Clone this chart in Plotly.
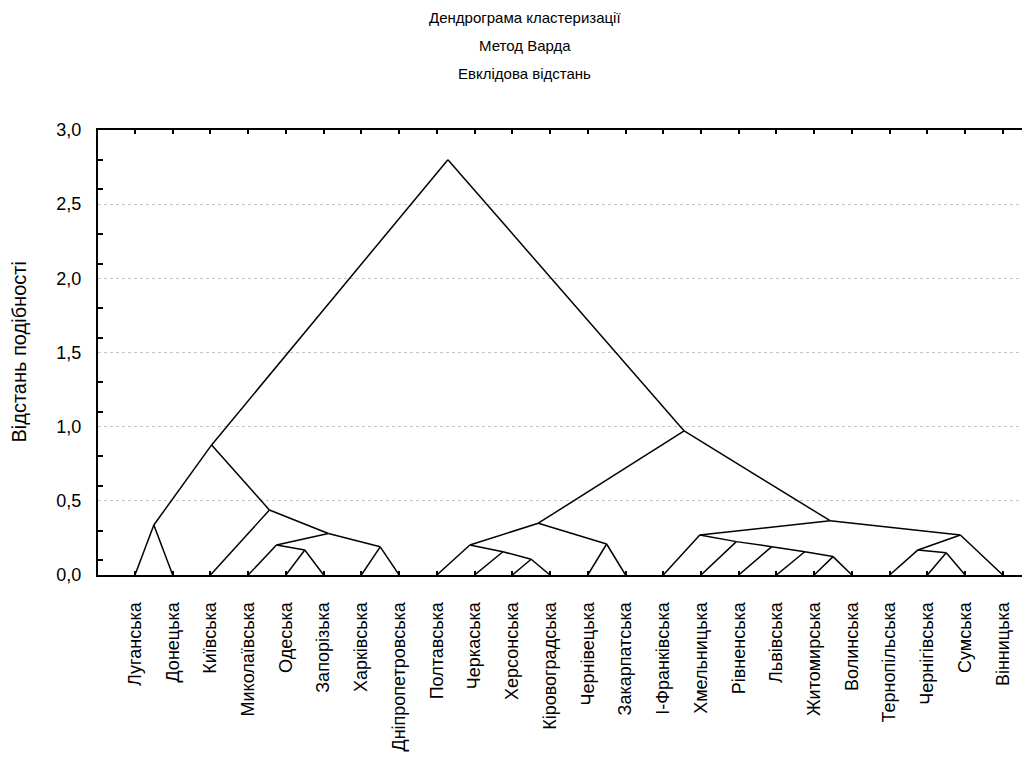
import plotly.graph_objects as go

# ---- data ----
leaf_labels = ["Луганська", "Донецька", "Київська", "Миколаївська", "Одеська",
               "Запорізька", "Харківська", "Дніпропетровська", "Полтавська",
               "Черкаська", "Херсонська", "Кіровоградська", "Чернівецька",
               "Закарпатська", "І-Франківська", "Хмельницька", "Рівненська",
               "Львівська", "Житомирська", "Волинська", "Тернопільська",
               "Чернігівська", "Сумська", "Вінницька"]

# merges: child ids (leaves 0..23, merged nodes 24 + merge index) and linkage distance
merge_left = [10, 18, 21, 17, 9, 4, 20, 6, 16, 3, 8, 12, 15, 33, 14, 30, 0, 34, 38, 2, 40, 41, 44]
merge_right = [11, 19, 22, 25, 24, 5, 26, 7, 27, 29, 28, 13, 32, 31, 36, 23, 1, 35, 39, 37, 43, 42, 45]
merge_height = [0.106, 0.124, 0.15, 0.157, 0.157, 0.169, 0.169, 0.19, 0.191, 0.202, 0.202,
                0.209, 0.225, 0.28, 0.27, 0.27, 0.337, 0.349, 0.366, 0.438, 0.877, 0.971, 2.80]

y_tick_vals = [0.0, 0.5, 1.0, 1.5, 2.0, 2.5, 3.0]
y_minor_vals = [0.1, 0.3, 0.6, 0.8, 1.1, 1.3, 1.6, 1.8, 2.1, 2.3, 2.6, 2.8]

title_lines = ["Дендрограма кластеризації", "Метод Варда", "Евклідова відстань"]
y_title = "Відстань подібності"

# ---- build the tree segments ----
n = len(leaf_labels)
node_x = {i: i + 1 for i in range(n)}
node_y = {i: 0.0 for i in range(n)}
xs, ys = [], []
for k, (a, b, h) in enumerate(zip(merge_left, merge_right, merge_height)):
    nid = n + k
    node_x[nid] = (node_x[a] + node_x[b]) / 2.0
    node_y[nid] = h
    for c in (a, b):
        xs += [node_x[c], node_x[nid], None]
        ys += [node_y[c], node_y[nid], None]

FONT = "Liberation Sans, Arial, sans-serif"

fig = go.Figure()
fig.add_trace(go.Scatter(x=xs, y=ys, mode="lines",
                         line=dict(color="black", width=1.5),
                         hoverinfo="skip", showlegend=False))

# page body has an 8px offset, margins compensate for it
fig.update_layout(
    width=1030, height=776,
    margin=dict(l=90, r=8, t=122, b=209),
    paper_bgcolor="white", plot_bgcolor="white",
    separators=", ",
    font=dict(family=FONT, size=15, color="black"),
    showlegend=False,
)

fig.update_xaxes(
    range=[0.02, 24.72],
    tickmode="array", tickvals=list(range(1, n + 1)), ticktext=leaf_labels,
    tickangle=-90, ticks="inside", ticklen=4, tickwidth=2, tickcolor="black",
    showline=True, linecolor="black", linewidth=2, mirror="ticks",
    showgrid=False, zeroline=False,
    tickfont=dict(family=FONT, size=18, color="black"),
    ticklabelstandoff=18,
)

fig.update_yaxes(
    range=[0, 3.0],
    tickmode="array", tickvals=y_tick_vals, tickformat=".1f",
    ticks="", showline=True, linecolor="black", linewidth=2, mirror=False,
    showgrid=True, gridcolor="#c4c4c4", griddash="dot", gridwidth=1,
    zeroline=False,
    tickfont=dict(family=FONT, size=18, color="black"),
    ticklabelstandoff=11,
    minor=dict(tickmode="array", tickvals=y_minor_vals, ticks="inside",
               ticklen=5, tickwidth=2, tickcolor="black", showgrid=False),
)

title_y = [1.252, 1.189, 1.126]
for txt, yy in zip(title_lines, title_y):
    fig.add_annotation(text=txt, xref="paper", yref="paper", x=0.458, y=yy,
                       showarrow=False, xanchor="center", yanchor="middle",
                       font=dict(family=FONT, size=15, color="black"))

fig.add_annotation(text=y_title, xref="paper", yref="paper", x=-0.0858, y=0.5,
                   showarrow=False, textangle=-90, xanchor="center", yanchor="middle",
                   font=dict(family=FONT, size=20, color="black"))

fig.write_html("out.html")
